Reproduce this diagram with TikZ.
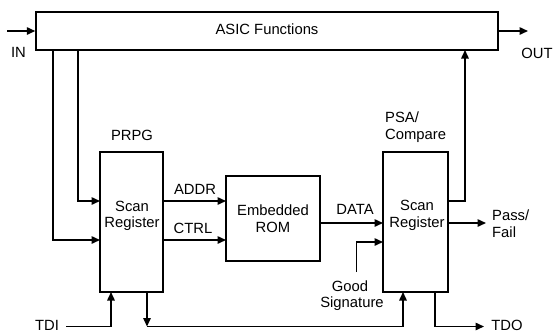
\documentclass[tikz,border=0pt]{standalone}
\usepackage{fontspec}
\setmainfont{Liberation Sans}
\usetikzlibrary{arrows.meta}
\tikzset{
  blk/.style={draw, line width=1.5pt, inner sep=0pt},
  wire/.style={line width=1.5pt},
  arr/.style={wire, -{Triangle[length=8.5pt,width=7.5pt]}},
  lbl/.style={inner sep=0pt, anchor=base, font=\fontsize{14.8}{17}\selectfont},
  lbll/.style={lbl, anchor=base west},
}
\begin{document}
\begin{tikzpicture}[x=1pt,y=-1pt]
\useasboundingbox (0,0) rectangle (555,333);
% blocks
\node[blk, minimum width=462pt, minimum height=38pt] (asic) at (267,31) {};
\node[blk, minimum width=63pt, minimum height=140pt] (prpg) at (131.5,222) {};
\node[blk, minimum width=94pt, minimum height=85pt] (rom) at (273,218.5) {};
\node[blk, minimum width=65pt, minimum height=140pt] (psa) at (415.5,222) {};
% texts
\node[lbl] (tasic) at (267,34) {ASIC Functions};
\node[lbl] (tin) at (18.5,57) {IN};
\node[lbl] (tout) at (537,58) {OUT};
\node[lbl] (tprpg) at (132,140.5) {PRPG};
\node[lbl] (tscan1) at (132,211) {Scan};
\node[lbl] (treg1) at (132,227.5) {Register};
\node[lbl] (taddr) at (195,194.5) {ADDR};
\node[lbl] (tctrl) at (193,233.5) {CTRL};
\node[lbl] (temb) at (273,215) {Embedded};
\node[lbl] (trom) at (273,232) {ROM};
\node[lbl] (tdata) at (355,214) {DATA};
\node[lbll] (tpsa) at (385,122) {PSA/};
\node[lbll] (tcmp) at (385,139) {Compare};
\node[lbl] (tscan2) at (417,210.5) {Scan};
\node[lbl] (treg2) at (417,227) {Register};
\node[lbll] (tpass) at (492,220) {Pass/};
\node[lbll] (tfail) at (492,237) {Fail};
\node[lbl] (tgood) at (350,291) {Good};
\node[lbl] (tsig) at (352,307) {Signature};
\node[lbl] (ttdi) at (47,330.5) {TDI};
\node[lbl] (ttdo) at (507,330.5) {TDO};
% coordinates
\coordinate (inS) at (7,31);
\coordinate (outE) at (528,31);
\coordinate (a1) at (53,50);
\coordinate (a1b) at (53,240);
\coordinate (a2) at (78,50);
\coordinate (a2b) at (78,201);
\coordinate (pa) at (100,201);
\coordinate (pc) at (100,240);
\coordinate (addrS) at (163,201);
\coordinate (addrE) at (226,201);
\coordinate (ctrlS) at (163,240);
\coordinate (ctrlE) at (226,240);
\coordinate (dataS) at (320,223);
\coordinate (dataE) at (383,223);
\coordinate (gsS) at (356.5,272);
\coordinate (gsK) at (356.5,242);
\coordinate (gsE) at (383,242);
\coordinate (upS) at (448,201);
\coordinate (upK) at (465,201);
\coordinate (upE) at (465,50);
\coordinate (pfS) at (448,223);
\coordinate (pfE) at (486,223);
\coordinate (tdiS) at (66,326.5);
\coordinate (tdiK) at (111,326.5);
\coordinate (tdiE) at (111,292);
\coordinate (scS) at (147,292);
\coordinate (scK) at (147,326.5);
\coordinate (scK2) at (403,326.5);
\coordinate (scE) at (403,292);
\coordinate (tdoS) at (435,292);
\coordinate (tdoK) at (435,326.5);
\coordinate (tdoE) at (484,326.5);
% connectors
\draw[arr] (inS) -- (asic.west |- inS);
\draw[arr] (asic.east |- outE) -- (outE);
\draw[arr] (a1) -- (a1b) -- (pc);
\draw[arr] (a2) -- (a2b) -- (pa);
\draw[arr] (addrS) -- (addrE);
\draw[arr] (ctrlS) -- (ctrlE);
\draw[arr] (dataS) -- (dataE);
\draw[arr] (gsS) -- (gsK) -- (gsE);
\draw[arr] (upS) -- (upK) -- (upE);
\draw[arr] (pfS) -- (pfE);
\draw[arr] (tdiS) -- (tdiK) -- (tdiE);
\draw[arr] (scS) -- (scK);
\draw[arr] (scK) -- (scK2) -- (scE);
\draw[arr] (tdoS) -- (tdoK) -- (tdoE);
\end{tikzpicture}
\end{document}
